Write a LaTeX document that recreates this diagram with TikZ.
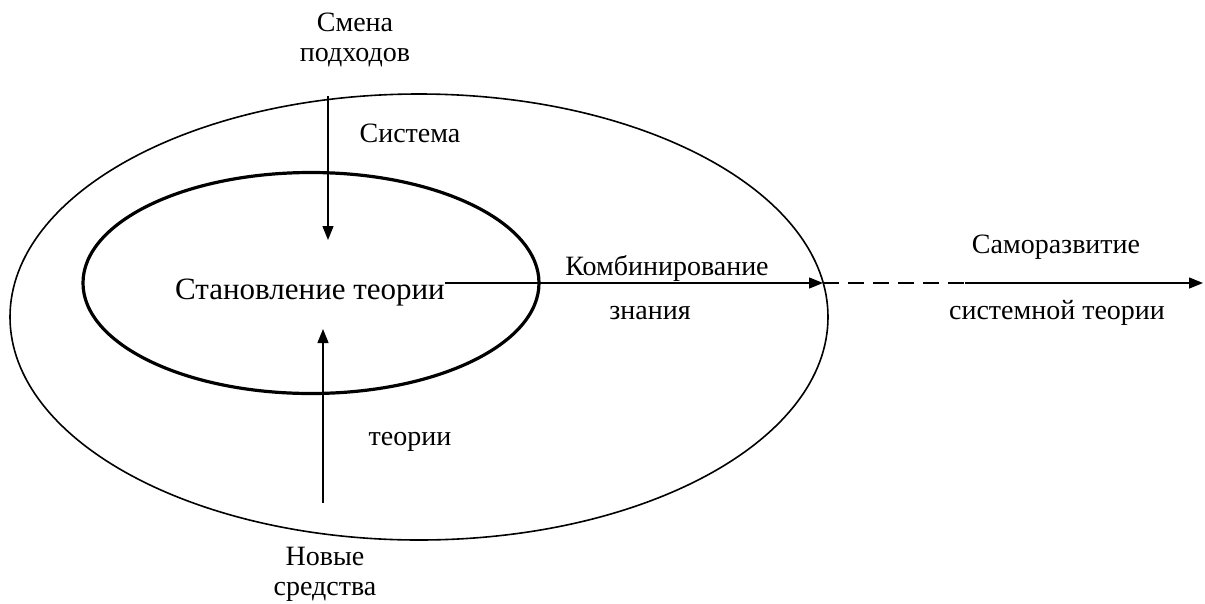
\documentclass[tikz,border=0pt]{standalone}
\usepackage{fontspec}
\setmainfont{Liberation Serif}
\usepackage{tikz}
\usetikzlibrary{shapes.geometric,arrows.meta}

\begin{document}
\begin{tikzpicture}[x=1pt, y=-1pt, line width=1.5pt]
      \tikzstyle{arrow} = [line width=1.4pt, -{Triangle[length=14pt, width=11pt]}]
      \tikzstyle{oval} = [ellipse, draw=black, inner sep=0pt]
      \tikzstyle{label} = [font=\fontsize{28}{30}\selectfont, align=center, inner sep=0pt]

      \useasboundingbox (0,0) rectangle (1205,603);

      \node (system) [oval, line width=1.6pt, minimum width=818pt, minimum height=446pt] at (419, 317) {};
      \node (theory) [oval, line width=3.2pt, minimum width=456pt, minimum height=221pt] at (311, 283) {};

      \node (smena) [label] at (355, 40) {Смена\\подходов};
      \node (sistema) [label] at (410, 133) {Система};
      \node (stanov) [label, font=\fontsize{31}{31}\selectfont] at (310, 293) {Становление теории};
      \node (komb) [label] at (667, 268) {Комбинирование};
      \node (znaniya) [label] at (650, 313) {знания};
      \node (samo) [label] at (1056, 247) {Саморазвитие};
      \node (sist-teor) [label] at (1057, 313) {системной теории};
      \node (teorii) [label] at (410, 442) {теории};
      \node (novye) [label] at (325, 574) {Новые\\средства};

      \coordinate (smena-in) at (328, 96);
      \coordinate (smena-out) at (328, 240);
      \coordinate (novye-in) at (323, 503);
      \coordinate (novye-out) at (323, 329);
      \coordinate (komb-in) at (445, 283);
      \coordinate (komb-out) at (823, 283);
      \coordinate (samo-mid) at (965, 283);
      \coordinate (samo-out) at (1203, 283);

      \draw [arrow] (smena-in) -- (smena-out);
      \draw [arrow] (novye-in) -- (novye-out);
      \draw [arrow] (komb-in) -- (komb-out);
      \draw [line width=1.4pt, dash pattern=on 16pt off 9pt] (komb-out) -- (samo-mid);
      \draw [arrow] (samo-mid) -- (samo-out);
\end{tikzpicture}
\end{document}
